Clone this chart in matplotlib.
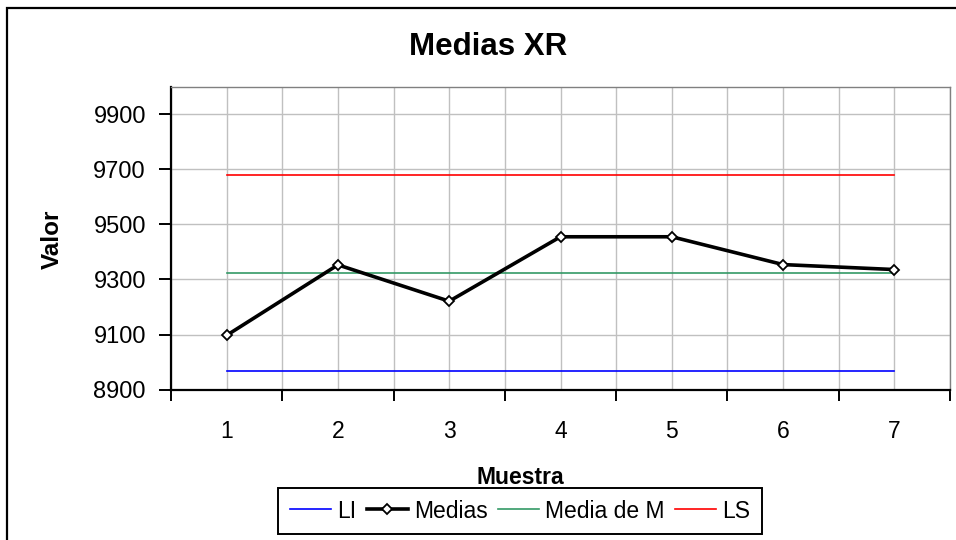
import matplotlib
matplotlib.use("Agg")
import matplotlib.pyplot as plt
from matplotlib.patches import Rectangle
import numpy as np

plt.rcParams['font.family'] = ['Liberation Sans', 'DejaVu Sans']

# Data
muestras = [1, 2, 3, 4, 5, 6, 7]
medias = [9097, 9353, 9221, 9455, 9455, 9354, 9336]
li = [8968] * 7
media_m = [9324] * 7
ls = [9680] * 7
y_ticks = [8900, 9100, 9300, 9500, 9700, 9900]

W, H = 956, 540
fig = plt.figure(figsize=(W / 100, H / 100), dpi=100)

# outer chart frame (extends past the right and bottom edges)
fig.patches.append(Rectangle((7 / W, -0.1), 1.2, (H - 8) / H + 0.1,
                             transform=fig.transFigure, fill=False,
                             edgecolor='black', linewidth=1.6, zorder=0))

L, R, T, B = 171, 950, 86.7, 389.6
ax = fig.add_axes([L / W, 1 - B / H, (R - L) / W, (B - T) / H])

ax.plot(muestras, li, color='#0000FF', lw=1.2, label='LI', zorder=3)
ax.plot(muestras, medias, color='black', lw=2.6, marker='D', ms=5.5,
        mfc='white', mec='black', mew=1.3, label='Medias', zorder=5)
ax.plot(muestras, media_m, color='#339966', lw=1.2, label='Media de M', zorder=3)
ax.plot(muestras, ls, color='#FF0000', lw=1.2, label='LS', zorder=3)

ax.set_xlim(0.5, 7.5)
ax.set_ylim(8900, 10000)

ax.set_xticks(np.arange(0.5, 8.0, 1.0))
ax.set_xticklabels([])
ax.set_xticks(muestras, minor=True)
ax.set_xticklabels([str(m) for m in muestras], minor=True)
ax.tick_params(axis='x', which='major', direction='out', length=8, width=1.4,
               color='black')
ax.tick_params(axis='x', which='minor', length=0, pad=22, labelsize=16.5)

ax.set_yticks(y_ticks)
ax.set_yticklabels([str(v) for v in y_ticks])
ax.tick_params(axis='y', direction='out', length=9, width=1.4, pad=9,
               labelsize=17, color='black')

ax.grid(True, axis='x', which='both', color='#C0C0C0', lw=1.0, zorder=0)
ax.grid(True, axis='y', which='major', color='#C0C0C0', lw=1.0, zorder=0)
ax.set_axisbelow(True)

for side in ('left', 'bottom'):
    ax.spines[side].set_color('black')
    ax.spines[side].set_linewidth(1.6)
for side in ('top', 'right'):
    ax.spines[side].set_color('#808080')
    ax.spines[side].set_linewidth(1.0)

fig.text(488 / W, 1 - 47 / H, 'Medias XR', ha='center', va='center',
         fontsize=22.5, fontweight='bold')
fig.text(52 / W, 1 - 239 / H, 'Valor', ha='center', va='center',
         rotation=90, fontsize=17.5, fontweight='bold')
fig.text(520 / W, 1 - 477 / H, 'Muestra', ha='center', va='center',
         fontsize=16.5, fontweight='bold')

leg = fig.legend(loc='center', bbox_to_anchor=(520 / W, 1 - 511 / H),
                 ncol=4, fontsize=16.5, frameon=True, fancybox=False,
                 framealpha=1, edgecolor='black', handlelength=1.8,
                 handletextpad=0.26, columnspacing=0.45, borderpad=0.5,
                 borderaxespad=0)
leg.get_frame().set_linewidth(1.4)

fig.savefig('out.png', dpi=100)
